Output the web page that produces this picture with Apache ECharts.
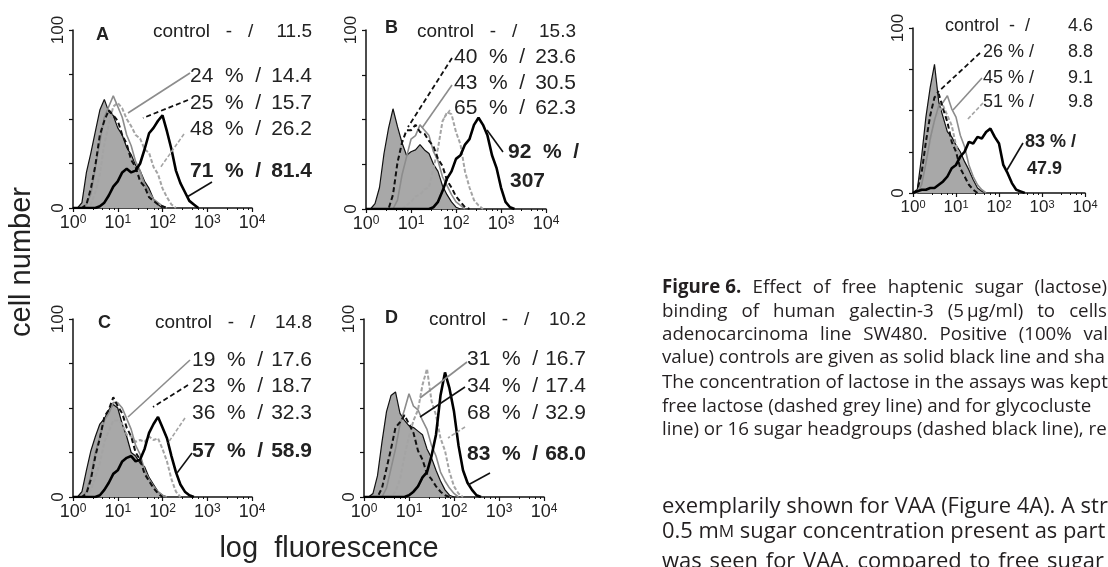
<!DOCTYPE html>
<html>
<head>
<meta charset="utf-8">
<script src="https://cdn.jsdelivr.net/npm/echarts@6/dist/echarts.min.js"></script>
<style>
html, body { margin: 0; padding: 0; background: #fff; }
#chart { width: 1108px; height: 567px; }
</style>
</head>
<body>
<div id="chart"></div>
<script>
// fluorescence channels, 0.1 decade apart
var FL = [1, 1.259, 1.585, 1.995, 2.512, 3.162, 3.981, 5.012, 6.31, 7.943,
          10, 12.59, 15.85, 19.95, 25.12, 31.62, 39.81, 50.12, 63.1, 79.43,
          100, 125.9, 158.5, 199.5, 251.2, 316.2, 398.1, 501.2, 631, 794.3,
          1000, 1259, 1585, 1995];

// panel A
var aNeg       = [0,0,3,20,31,43,55,61,54,52,45,41,34,30,24,21,15,11,5,2,0];
var aGreyDash  = [0,0,0,0,2,9,19,36,47,57,59,56,50,46,41,39,33,31,23,19,11,6,2,0];
var aGreySolid = [0,0,0,2,8,23,37,51,57,63,57,51,41,35,26,21,13,9,5,3,1,0];
var aBlackDash = [0,0,0,2,11,24,41,49,55,52,49,41,36,27,23,15,12,6,4,2,1,0];
var aPos       = [0,0,0,0,0,0,1,3,7,12,15,20,22,20,21,25,33,42,45,49,52,43,33,21,14,9,4,2,0];
// panel B
var bNeg       = [0,0,3,12,31,45,56,46,37,30,32,33,36,33,31,25,21,13,8,4,1,0];
var bGreyDash  = [0,0,0,0,0,0,0,0,0,2,4,7,8,11,12,23,34,49,54,53,43,36,21,12,5,2,0];
var bGreySolid = [0,0,0,0,0,0,0,5,19,29,39,41,47,44,41,32,27,18,13,8,4,2,0];
var bBlackDash = [0,0,0,0,0,0,8,26,37,44,44,47,43,42,38,35,28,24,16,12,7,4,1,0];
var bPos       = [0,0,0,0,0,0,0,0,0,0,0,0,0,0,0,1,4,10,17,21,28,30,36,39,47,51,47,41,30,23,12,4,1,0];
// panel C
var cNeg       = [0,0,3,15,26,34,41,44,49,52,50,41,34,25,23,19,17,11,7,3,1,0];
var cGreyDash  = [0,0,0,0,4,11,19,31,37,43,43,41,35,34,31,32,31,34,32,33,27,20,10,3,0];
var cGreySolid = [0,0,0,3,12,25,34,43,47,53,53,50,44,38,29,24,15,10,6,3,1,0];
var cBlackDash = [0,0,0,2,10,23,33,45,49,56,51,47,39,34,25,21,13,9,5,2,0];
var cPos       = [0,0,0,0,0,0,1,4,8,13,15,20,22,23,20,21,27,36,41,45,39,33,23,14,7,3,1,0];
// panel D
var dNeg       = [0,0,2,12,31,48,57,59,47,43,40,39,37,35,27,22,15,9,4,1,0];
var dGreyDash  = [0,0,0,0,0,0,0,3,10,23,34,43,49,63,72,54,46,33,26,14,6,2,0];
var dGreySolid = [0,0,0,0,0,5,16,27,41,49,58,51,49,43,38,29,23,14,9,5,2,0];
var dBlackDash = [0,0,0,0,5,16,27,39,42,46,41,36,26,21,13,10,6,3,1,0];
var dPos       = [0,0,0,0,0,0,0,0,0,0,1,3,6,11,14,23,35,57,70,61,48,29,15,8,4,1,0];
// panel E (single panel, right)
var eNeg       = [0,2,22,46,64,78,55,46,37,34,29,25,19,14,8,3,1,0];
var eGreyDash  = [0,0,6,19,31,45,49,53,47,41,29,21,11,6,2,0];
var eGreySolid = [0,0,5,18,33,44,53,55,59,51,46,35,28,17,10,5,2,0];
var eBlackDash = [0,2,12,31,47,58,60,51,43,31,25,15,10,5,2,0];
var ePos       = [0,1,2,2,3,3,5,7,10,15,17,22,25,31,30,34,33,37,39,34,30,17,12,6,2,1,0];

// annotation rows: left text, value, left x, mid y, size, bold
var annA = [['control   -   /','11.5',153,32,19,false],['24  %  /','14.4',190,76,21,false],['25  %  /','15.7',190,103,21,false],['48  %  /','26.2',190,129,21,false],['71  %  /','81.4',190,171,21,true]];
var annB = [['control   -   /','15.3',417,32,19,false],['40  %  /','23.6',454,57,21,false],['43  %  /','30.5',454,83,21,false],['65  %  /','62.3',454,108,21,false],['92  %  /','',508,152,21,true],['307','',510,181,21,true]];
var annC = [['control   -   /','14.8',155,323,19,false],['19  %  /','17.6',192,360,21,false],['23  %  /','18.7',192,386,21,false],['36  %  /','32.3',192,413,21,false],['57  %  /','58.9',192,451,21,true]];
var annD = [['control   -   /','10.2',429,320,19,false],['31  %  /','16.7',467,359,21,false],['34  %  /','17.4',467,386,21,false],['68  %  /','32.9',467,413,21,false],['83  %  /','68.0',467,454,21,true]];
var annE = [['control  -  /','4.6',945,26,18,false],['26 % /','8.8',983,52,18,false],['45 % /','9.1',983,78,18,false],['51 % /','9.8',983,102,18,false],['83 % /','',1025,142,18,true],['47.9','',1027,169,18,true]];
var annRight = [312, 576, 312, 586, 1093];

// leader lines: x1, y1, x2, y2, style
var leadA = [[190,73,128,113,'gs'],[188,100,143,118,'bd'],[184,134,160,168,'gd'],[212,182,187,197,'bs']];
var leadB = [[452,58,408,127,'bd'],[452,85,422,128,'gs'],[450,110,444,118,'gd'],[503,152,487,130,'bs']];
var leadC = [[190,360,128,417,'gs'],[188,385,153,407,'bd'],[185,418,168,443,'gd'],[192,453,177,473,'bs']];
var leadD = [[467,362,420,398,'gs'],[465,387,420,417,'bs'],[465,427,448,438,'gd'],[490,473,468,485,'bs']];
var leadE = [[980,53,937,93,'bd'],[982,78,953,110,'gs'],[983,103,967,120,'gd'],[1023,143,1007,170,'bs']];

var letters = [['A',96,35],['B',385,28],['C',98,323],['D',385,318]];

// caption lines
var capJustified = [
    {words: ['Figure 6.','Effect','of','free','haptenic','sugar','(lactose)'], y: 288, end: 1107, boldFirst: true},
    {words: ['binding','of','human','galectin-3','(5\u2009\u00b5g/ml)','to','cells'], y: 312, end: 1107},
    {words: ['adenocarcinoma','line','SW480.','Positive','(100%','val'], y: 335, end: 1108}
];
var capPlain = [
    ['value) controls are given as solid black line and sha', 358],
    ['The concentration of lactose in the assays was kept', 383],
    ['free lactose (dashed grey line) and for glycocluste', 407],
    ['line) or 16 sugar headgroups (dashed black line), re', 430]
];
var bodyLine1 = ['exemplarily shown for VAA (Figure 4A). A str', 507];
var bodyLine2 = ['0.5 m{sc|M} sugar concentration present as part c', 532];
var bodyLine3 = {words: ['was','seen','for','VAA,','compared','to','free','sugar'], y: 562, end: 1104};

var FONT = '"Liberation Sans", Arial, sans-serif';
var CAP_FAMILY = '"Open Sans", sans-serif';

var panels = [
    {grid: [73,30,179,178],  lab: 18, curves: [aNeg,aGreyDash,aGreySolid,aBlackDash,aPos], ann: annA, lead: leadA},
    {grid: [366,30,180,179], lab: 18, curves: [bNeg,bGreyDash,bGreySolid,bBlackDash,bPos], ann: annB, lead: leadB},
    {grid: [73,319,179,178], lab: 18, curves: [cNeg,cGreyDash,cGreySolid,cBlackDash,cPos], ann: annC, lead: leadC},
    {grid: [364,319,180,178],lab: 18, curves: [dNeg,dGreyDash,dGreySolid,dBlackDash,dPos], ann: annD, lead: leadD},
    {grid: [913,28,172,165], lab: 17, curves: [eNeg,eGreyDash,eGreySolid,eBlackDash,ePos], ann: annE, lead: leadE}
];

var curveStyles = [
    {color: '#111', width: 1.2, fill: '#a8a8a8'},   // negative control
    {color: '#a4a4a4', width: 2, type: [4, 2]},     // free lactose
    {color: '#8c8c8c', width: 1.6},                 // glycocluster
    {color: '#111', width: 2, type: [5, 3]},        // 16 headgroups
    {color: '#000', width: 2.6}                     // positive control
];
var leadStyles = {
    gs: {stroke: '#8c8c8c', lineWidth: 1.6},
    gd: {stroke: '#a4a4a4', lineWidth: 1.6, lineDash: [4, 2]},
    bd: {stroke: '#111', lineWidth: 1.8, lineDash: [5, 3]},
    bs: {stroke: '#111', lineWidth: 1.6}
};

var ctx = document.createElement('canvas').getContext('2d');
function measure(text, font) {
    ctx.font = font;
    return ctx.measureText(text).width;
}

function txt(x, y, text, font, align, fill, extra) {
    var el = {
        type: 'text', x: x, y: y, silent: true,
        style: {
            text: text, font: font, fill: fill || '#222',
            align: align || 'left', verticalAlign: 'middle',
            textAlign: align || 'left', textVerticalAlign: 'middle'
        }
    };
    if (extra) Object.assign(el, extra);
    return el;
}

var els = [];

// panel texts
panels.forEach(function (p, i) {
    p.ann.forEach(function (a) {
        var f = (a[5] ? 'bold ' : '') + a[4] + 'px ' + FONT;
        els.push(txt(a[2], a[3], a[0], f));
        if (a[1]) els.push(txt(annRight[i], a[3], a[1], f, 'right'));
    });
    p.lead.forEach(function (l) {
        var s = Object.assign({}, leadStyles[l[4]]);
        els.push({type: 'line', silent: true, z: 10, shape: {x1: l[0], y1: l[1], x2: l[2], y2: l[3]}, style: s});
    });
});
letters.forEach(function (l) {
    els.push(txt(l[1], l[2], l[0], 'bold 18px ' + FONT));
});

els.push(txt(22, 262, 'cell number', '29px ' + FONT, 'center', '#222', {rotation: Math.PI / 2}));
els.push(txt(329, 549, 'log  fluorescence', '29px ' + FONT, 'center'));

// caption (justified lines spread between the measured edges)
var capSize = 100 * 446 / measure(capPlain[1][0], '100px ' + CAP_FAMILY);
var bodySize = 100 * 446 / measure(bodyLine1[0], '100px ' + CAP_FAMILY);
var CAP_FILL = '#231f20';

function justify(line, size) {
    var fonts = line.words.map(function (w, i) {
        return (line.boldFirst && i === 0 ? '700 ' : '400 ') + size.toFixed(2) + 'px ' + CAP_FAMILY;
    });
    var widths = line.words.map(function (w, i) { return measure(w, fonts[i]); });
    var total = widths.reduce(function (a, b) { return a + b; }, 0);
    var gap = (line.end - 662 - total) / (line.words.length - 1);
    var x = 662;
    line.words.forEach(function (w, i) {
        els.push(txt(x, line.y, w, fonts[i], 'left', CAP_FILL));
        x += widths[i] + gap;
    });
}
capJustified.forEach(function (l) { justify(l, capSize); });
capPlain.forEach(function (l) {
    els.push(txt(662, l[1], l[0], capSize.toFixed(2) + 'px ' + CAP_FAMILY, 'left', CAP_FILL));
});
els.push(txt(662, bodyLine1[1], bodyLine1[0], bodySize.toFixed(2) + 'px ' + CAP_FAMILY, 'left', CAP_FILL));
var b2 = txt(662, bodyLine2[1], bodyLine2[0], null, 'left', CAP_FILL);
delete b2.style.font;
b2.style.fontSize = bodySize;
b2.style.fontFamily = CAP_FAMILY;
b2.style.rich = {sc: {fontSize: bodySize * 0.78, fontFamily: CAP_FAMILY, fill: CAP_FILL}};
els.push(b2);
justify(bodyLine3, bodySize);

var chart = echarts.init(document.getElementById('chart'), null, {renderer: 'canvas'});

chart.setOption({
    animation: false,
    backgroundColor: '#fff',
    grid: panels.map(function (p) {
        return {left: p.grid[0], top: p.grid[1], width: p.grid[2], height: p.grid[3], containLabel: false};
    }),
    xAxis: panels.map(function (p, i) {
        return {
            type: 'log', logBase: 10, gridIndex: i, min: 1, max: 10000,
            axisLine: {lineStyle: {color: '#111', width: 1.5}},
            axisTick: {length: 4, lineStyle: {color: '#111', width: 1.2}},
            minorTick: {show: true, splitNumber: 5, length: 2, lineStyle: {color: '#111'}},
            splitLine: {show: false},
            axisLabel: {
                margin: 6, color: '#222', fontFamily: FONT, fontSize: p.lab,
                formatter: function (v) { return '10{s|' + Math.round(Math.log10(v)) + '}'; },
                rich: {s: {fontSize: Math.round(p.lab * 0.65), fontFamily: FONT, color: '#222', verticalAlign: 'top'}}
            }
        };
    }),
    yAxis: panels.map(function (p, i) {
        return {
            type: 'value', gridIndex: i, min: 0, max: 100, interval: 25,
            axisLine: {show: true, lineStyle: {color: '#111', width: 1.5}},
            axisTick: {show: true, length: 4, lineStyle: {color: '#111', width: 1.2}},
            splitLine: {show: false},
            axisLabel: {
                rotate: 90, margin: 6, color: '#222', fontFamily: FONT, fontSize: 17,
                formatter: function (v) { return (v === 0 || v === 100) ? String(v) : ''; }
            }
        };
    }),
    series: [].concat.apply([], panels.map(function (p, i) {
        return p.curves.map(function (ys, k) {
            var st = curveStyles[k];
            return {
                type: 'line', xAxisIndex: i, yAxisIndex: i,
                showSymbol: false, symbol: 'none', z: 2 + k,
                data: ys.map(function (y, j) { return [FL[j], y]; }),
                lineStyle: {color: st.color, width: st.width, type: st.type || 'solid'},
                areaStyle: st.fill ? {color: st.fill, opacity: 1} : undefined
            };
        });
    })),
    graphic: {elements: els}
});

window.addEventListener('resize', function () {
    chart.resize();
});
</script>
</body>
</html>
